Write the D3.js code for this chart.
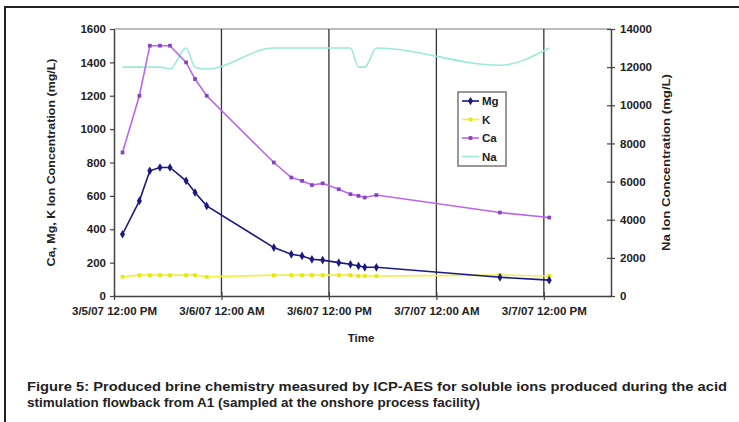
<!DOCTYPE html>
<html>
<head>
<meta charset="utf-8">
<script src="https://cdn.jsdelivr.net/npm/d3@7"></script>
<style>
  body { margin: 0; background: #fff; }
  svg { display: block; font-family: "Liberation Sans", Arial, sans-serif; }
</style>
</head>
<body>
<div id="chart"></div>
<script>
// sample times (all series share them)
const times = [
  "2007-03-05 12:57", "2007-03-05 14:50", "2007-03-05 16:00", "2007-03-05 17:08",
  "2007-03-05 18:15", "2007-03-05 20:03", "2007-03-05 21:03", "2007-03-05 22:21",
  "2007-03-06 05:51", "2007-03-06 07:48", "2007-03-06 09:00", "2007-03-06 10:06",
  "2007-03-06 11:18", "2007-03-06 13:06", "2007-03-06 14:24", "2007-03-06 15:18",
  "2007-03-06 16:00", "2007-03-06 17:18", "2007-03-07 07:06", "2007-03-07 12:36"
];
const mg = [370, 570, 750, 770, 770, 690, 620, 540, 290, 250, 240, 220, 215, 200, 190, 180, 172, 172, 112, 95];
const k  = [115, 125, 125, 125, 125, 125, 125, 115, 125, 125, 125, 125, 125, 125, 125, 120, 120, 120, 125, 120];
const ca = [860, 1200, 1500, 1500, 1500, 1400, 1300, 1200, 800, 710, 690, 665, 675, 640, 610, 600, 590, 605, 500, 470];
const na = [12000, 12000, 12000, 12000, 11900, 13000, 12000, 11900, 13000, 13000, 13000, 13000, 13000, 13000, 13000, 12000, 12000, 13000, 12100, 13000];

const xTickLabels = ["3/5/07 12:00 PM", "3/6/07 12:00 AM", "3/6/07 12:00 PM", "3/7/07 12:00 AM", "3/7/07 12:00 PM"];
const leftTicks = [0, 200, 400, 600, 800, 1000, 1200, 1400, 1600];
const rightTicks = [0, 2000, 4000, 6000, 8000, 10000, 12000, 14000];
const caption = [
  "Figure 5: Produced brine chemistry measured by ICP-AES for soluble ions produced during the acid",
  "stimulation flowback from A1 (sampled at the onshore process facility)"
];

const W = 739, H = 422;
const plot = {left: 114, right: 611, top: 29, bottom: 296};

const parse = d3.timeParse("%Y-%m-%d %H:%M");
const dates = times.map(parse);

const svg = d3.select("#chart").append("svg")
  .attr("width", W).attr("height", H);

// figure frame (top and left edge)
svg.append("path")
  .attr("d", `M5,${H} V7 H${W}`)
  .attr("fill", "none").attr("stroke", "#222").attr("stroke-width", 2);

const x = d3.scaleTime()
  .domain([parse("2007-03-05 12:00"), parse("2007-03-07 19:30")])
  .range([plot.left, plot.right]);
const yL = d3.scaleLinear().domain([0, 1600]).range([plot.bottom, plot.top]);
const yR = d3.scaleLinear().domain([0, 14000]).range([plot.bottom, plot.top]);

const xTicks = d3.range(5).map(i => d3.timeHour.offset(parse("2007-03-05 12:00"), i * 12));

// plot border (top)
svg.append("line")
  .attr("x1", plot.left).attr("x2", plot.right)
  .attr("y1", plot.top).attr("y2", plot.top)
  .attr("stroke", "#bbb").attr("stroke-width", 2);

// vertical gridlines
svg.append("g").selectAll("line")
  .data(xTicks.slice(1))
  .join("line")
  .attr("x1", d => x(d)).attr("x2", d => x(d))
  .attr("y1", plot.top).attr("y2", plot.bottom)
  .attr("stroke", "#333").attr("stroke-width", 1.3);

// axes
const gx = svg.append("g")
  .attr("transform", `translate(0,${plot.bottom})`)
  .call(d3.axisBottom(x).tickValues(xTicks).tickSize(4).tickSizeOuter(0)
    .tickFormat((d, i) => xTickLabels[i]));
gx.selectAll(".tick line").attr("y1", -4);

const gl = svg.append("g")
  .attr("transform", `translate(${plot.left},0)`)
  .call(d3.axisLeft(yL).tickValues(leftTicks).tickSize(4).tickSizeOuter(0)
    .tickFormat(d3.format("d")));

const gr = svg.append("g")
  .attr("transform", `translate(${plot.right},0)`)
  .call(d3.axisRight(yR).tickValues(rightTicks).tickSize(4).tickSizeOuter(0)
    .tickFormat(d3.format("d")));
gr.selectAll(".tick line").attr("x1", -4);

[gx, gl, gr].forEach(g => {
  g.select(".domain").attr("stroke", "#444").attr("stroke-width", 1.5);
  g.selectAll(".tick line").attr("stroke", "#444").attr("stroke-width", 1.2);
  g.selectAll("text").attr("fill", "#222").style("font-size", "11.5px").style("font-weight", "bold");
});
gx.selectAll("text").attr("dy", "1.0em");
gl.selectAll("text").attr("x", -8);
gr.selectAll("text").attr("x", 9);

// axis titles
svg.append("text")
  .attr("transform", `translate(51,${(plot.top + plot.bottom) / 2}) rotate(-90)`)
  .attr("text-anchor", "middle").attr("dy", "0.35em").attr("fill", "#222")
  .attr("textLength", 208).attr("lengthAdjust", "spacingAndGlyphs")
  .style("font-size", "11px").style("font-weight", "bold")
  .text("Ca, Mg, K Ion Concentration (mg/L)");
svg.append("text")
  .attr("transform", `translate(666,${(plot.top + plot.bottom) / 2}) rotate(-90)`)
  .attr("text-anchor", "middle").attr("dy", "0.35em").attr("fill", "#222")
  .attr("textLength", 177).attr("lengthAdjust", "spacingAndGlyphs")
  .style("font-size", "11px").style("font-weight", "bold")
  .text("Na Ion Concentration (mg/L)");
svg.append("text")
  .attr("x", 361).attr("y", 342)
  .attr("text-anchor", "middle").attr("fill", "#222")
  .style("font-size", "11.5px").style("font-weight", "bold")
  .text("Time");

// series
const series = [
  {name: "Mg", values: mg, y: yL, line: "#1a1a80", marker: "#1a1a80", shape: d3.symbolDiamond, curve: d3.curveLinear},
  {name: "K", values: k, y: yL, line: "#f0f040", marker: "#e8e800", shape: d3.symbolSquare, curve: d3.curveLinear},
  {name: "Ca", values: ca, y: yL, line: "#bb66ee", marker: "#8844bb", shape: d3.symbolSquare, curve: d3.curveLinear},
  {name: "Na", values: na, y: yR, line: "#99ead8", marker: null, shape: null, curve: d3.curveMonotoneX}
];

// draw Na first so it sits underneath
[series[3], series[1], series[0], series[2]].forEach(s => {
  const pts = dates.map((d, i) => [d, s.values[i]]);
  svg.append("path")
    .datum(pts)
    .attr("fill", "none")
    .attr("stroke", s.line)
    .attr("stroke-width", 1.6)
    .attr("d", d3.line().curve(s.curve).x(d => x(d[0])).y(d => s.y(d[1])));
  if (s.shape) {
    svg.append("g").selectAll("path")
      .data(pts)
      .join("path")
      .attr("transform", d => `translate(${x(d[0])},${s.y(d[1])})`)
      .attr("d", d3.symbol().type(s.shape).size(s.shape === d3.symbolDiamond ? 22 : 14))
      .attr("fill", s.marker);
  }
});

// legend
const lg = svg.append("g").attr("transform", "translate(458,92)");
lg.append("rect")
  .attr("width", 48).attr("height", 74)
  .attr("fill", "#fff").attr("stroke", "#777").attr("stroke-width", 1.5);
series.forEach((s, i) => {
  const yy = 9 + i * 18.5;
  lg.append("line")
    .attr("x1", 4).attr("x2", 21).attr("y1", yy).attr("y2", yy)
    .attr("stroke", s.line).attr("stroke-width", 1.6);
  if (s.shape) {
    lg.append("path")
      .attr("transform", `translate(12.5,${yy})`)
      .attr("d", d3.symbol().type(s.shape).size(s.shape === d3.symbolDiamond ? 22 : 14))
      .attr("fill", s.marker);
  }
  lg.append("text")
    .attr("x", 24).attr("y", yy).attr("dy", "0.35em")
    .attr("fill", "#222")
    .style("font-size", "11.5px").style("font-weight", "bold")
    .text(s.name);
});

// caption
svg.append("text")
  .attr("x", 27).attr("y", 391)
  .attr("fill", "#222")
  .attr("textLength", 700).attr("lengthAdjust", "spacingAndGlyphs")
  .style("font-size", "12.5px").style("font-weight", "bold")
  .text(caption[0]);
svg.append("text")
  .attr("x", 27).attr("y", 407)
  .attr("fill", "#222")
  .attr("textLength", 453).attr("lengthAdjust", "spacingAndGlyphs")
  .style("font-size", "12.5px").style("font-weight", "bold")
  .text(caption[1]);
</script>
</body>
</html>
